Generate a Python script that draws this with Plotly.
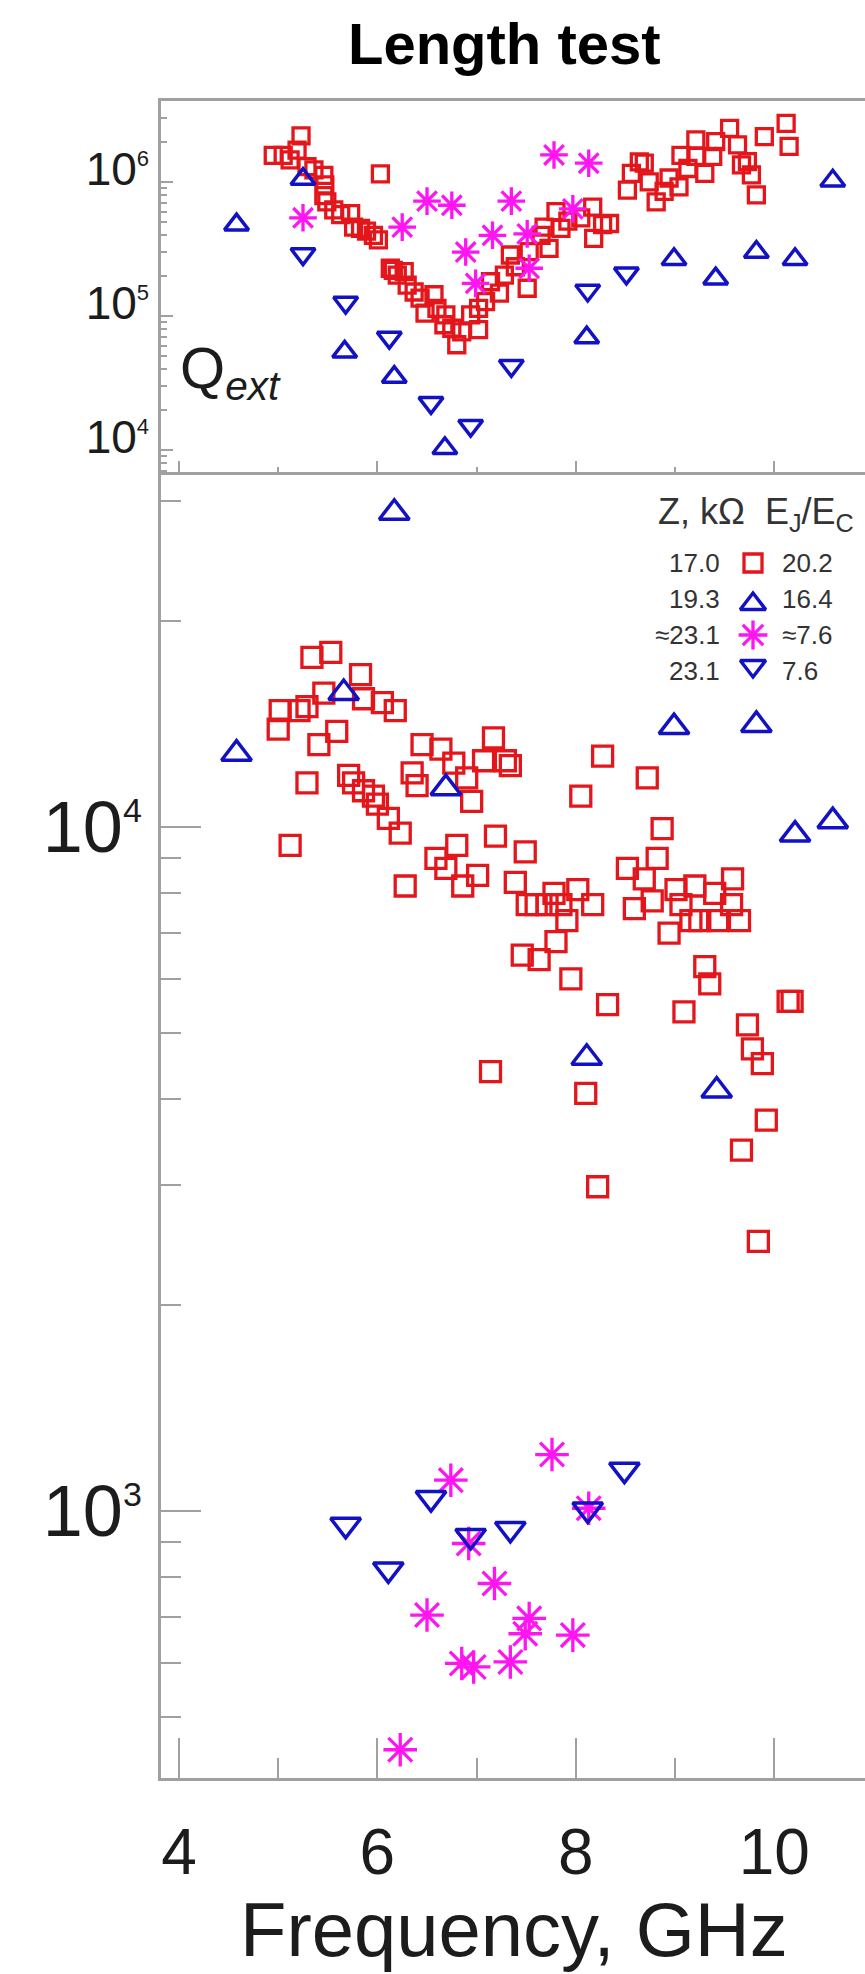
import plotly.graph_objects as go

W, H = 865, 1974

# ---------------- data ----------------
# 17.0 kOhm junction chain (open squares)
sq_f_top = [4.95, 5.05, 5.12, 5.19, 5.23, 5.29, 5.36, 5.46, 5.47, 5.46, 5.49, 5.56, 5.63, 5.73, 5.76,
            5.83, 5.89, 5.96, 6.01, 6.03, 6.13, 6.16, 6.20, 6.27, 6.30, 6.37, 6.43, 6.48, 6.57, 6.60,
            6.69, 6.67, 6.75, 6.80, 6.85, 6.94, 7.02, 7.02, 7.09, 7.14, 7.23, 7.28, 7.34, 7.39, 7.51,
            7.53, 7.65, 7.68, 7.73, 7.80, 7.85, 7.92, 8.05, 8.17, 8.18, 8.27, 8.34, 8.52, 8.56, 8.64,
            8.69, 8.74, 8.81, 8.89, 8.94, 9.04, 9.06, 9.13, 9.21, 9.21, 9.30, 9.38, 9.41, 9.55, 9.63,
            9.67, 9.73, 9.77, 9.82, 9.90, 10.12, 10.15]
sq_q_top = [1.58e6, 1.58e6, 1.46e6, 1.73e6, 2.21e6, 1.30e6, 1.23e6, 1.12e6, 9.5e5, 7.9e5, 7.1e5, 6.2e5,
            5.7e5, 5.8e5, 4.6e5, 4.5e5, 4.3e5, 4.0e5, 3.7e5, 1.15e6, 2.27e5, 2.19e5, 2.02e5, 2.14e5,
            1.70e5, 1.51e5, 1.36e5, 1.05e5, 1.44e5, 1.14e5, 1.02e5, 8.6e4, 8.1e4, 6.1e4, 7.6e4, 1.02e5,
            7.9e4, 1.14e5, 1.28e5, 1.80e5, 1.48e5, 2.02e5, 2.85e5, 2.33e5, 1.61e5, 3.02e5, 4.0e5, 4.6e5,
            3.2e5, 6.0e5, 4.5e5, 5.1e5, 5.4e5, 6.5e5, 3.8e5, 4.8e5, 4.9e5, 8.7e5, 1.16e6, 1.41e6,
            1.38e6, 1.0e6, 7.1e5, 8.5e5, 1.07e6, 9.2e5, 1.58e6, 1.26e6, 2.06e6, 1.55e6, 1.16e6, 1.55e6,
            2.0e6, 2.51e6, 1.89e6, 1.34e6, 1.42e6, 1.13e6, 8.0e5, 2.18e6, 2.74e6, 1.84e6]
sq_f_bot = [5.34, 5.53, 5.83, 5.02, 5.00, 5.21, 5.29, 5.46, 5.86, 6.05, 6.18, 5.41, 5.59, 5.29, 5.71,
            5.76, 5.86, 5.96, 6.00, 6.11, 6.23, 5.12, 6.45, 6.64, 6.35, 6.40, 6.77, 6.90, 7.07, 7.17,
            6.95, 7.19, 6.80, 6.59, 6.69, 6.86, 7.01, 6.28, 7.29, 7.34, 8.27, 8.72, 8.05, 8.87, 7.49,
            7.39, 7.51, 7.60, 7.71, 7.78, 7.85, 8.02, 8.17, 7.91, 7.80, 7.46, 7.63, 7.95, 8.52, 8.82,
            8.69, 8.59, 8.77, 9.01, 9.20, 9.06, 8.94, 9.16, 9.25, 9.43, 9.40, 9.57, 9.58, 9.65, 9.30,
            9.35, 8.32, 7.14, 8.10, 8.22, 9.09, 10.14, 10.18, 9.73, 9.78, 9.88, 9.92, 9.67, 9.84]
sq_v_bot = [1.77e4, 1.80e4, 1.67e4, 1.48e4, 1.39e4, 1.48e4, 1.50e4, 1.57e4, 1.54e4, 1.52e4, 1.48e4,
            1.32e4, 1.38e4, 1.16e4, 1.19e4, 1.16e4, 1.13e4, 1.11e4, 1.08e4, 1.03e4, 9.8e3, 9.4e3,
            1.32e4, 1.30e4, 1.20e4, 1.15e4, 1.24e4, 1.18e4, 1.25e4, 1.35e4, 1.09e4, 9.7e3, 9.4e3,
            9.0e3, 8.7e3, 8.2e3, 8.5e3, 8.2e3, 1.25e4, 1.23e4, 1.27e4, 1.18e4, 1.11e4, 9.95e3, 9.2e3,
            8.3e3, 7.7e3, 7.7e3, 7.7e3, 8.0e3, 7.7e3, 8.1e3, 7.7e3, 7.3e3, 6.8e3, 6.5e3, 6.4e3,
            6.0e3, 8.7e3, 9.0e3, 8.4e3, 7.6e3, 7.8e3, 8.1e3, 8.2e3, 7.7e3, 7.0e3, 7.3e3, 7.3e3,
            7.3e3, 8.0e3, 7.7e3, 8.4e3, 7.3e3, 6.25e3, 5.9e3, 5.5e3, 4.39e3, 4.08e3, 2.98e3, 5.37e3,
            5.56e3, 5.56e3, 5.14e3, 4.74e3, 4.51e3, 3.73e3, 3.37e3, 2.48e3]

# 19.3 kOhm (open up-triangles)
tu_f_top = [4.58, 5.25, 5.67, 6.17, 6.68, 8.11, 8.99, 9.41, 9.82, 10.21, 10.59]
tu_q_top = [4.8e5, 1.05e6, 5.4e4, 3.5e4, 1.03e4, 6.9e4, 2.65e5, 1.9e5, 3.0e5, 2.65e5, 1.02e6]
tu_f_bot = [4.58, 5.66, 6.17, 6.69, 8.11, 8.99, 9.42, 9.82, 10.21, 10.59]
tu_v_bot = [1.28e4, 1.57e4, 2.88e4, 1.14e4, 4.6e3, 1.40e4, 4.12e3, 1.41e4, 9.75e3, 1.02e4]

# ~23.1 kOhm (asterisks)
st_f_top = [5.25, 6.25, 6.50, 6.75, 6.89, 6.99, 7.16, 7.35, 7.51, 7.53, 7.78, 7.97, 8.13]
st_q_top = [5.4e5, 4.6e5, 7.2e5, 6.7e5, 3.0e5, 1.75e5, 4.0e5, 7.2e5, 4.1e5, 2.27e5, 1.59e6, 6.3e5, 1.38e6]
st_f_bot = [6.23, 6.50, 6.74, 6.85, 6.92, 6.97, 7.18, 7.34, 7.49, 7.53, 7.76, 7.97, 8.13]
st_v_bot = [448, 705, 1110, 599, 897, 592, 784, 602, 662, 697, 1210, 659, 1010]

# 23.1 kOhm (open down-triangles)
td_f_top = [5.25, 5.68, 6.12, 6.54, 6.94, 7.35, 8.12, 8.51]
td_q_top = [2.9e5, 1.26e5, 6.9e4, 2.25e4, 1.52e4, 4.25e4, 1.55e5, 2.08e5]
td_f_bot = [5.68, 6.11, 6.54, 6.94, 7.34, 8.12, 8.49]
td_v_bot = [955, 822, 1045, 920, 942, 1006, 1150]

# legend text
z_labels = ["17.0", "19.3", "\u224823.1", "23.1"]
ratio_labels = ["20.2", "16.4", "\u22487.6", "7.6"]

# ---------------- styling ----------------
RED = "#E3161C"
BLUE = "#1212C4"
MAG = "#FF14F2"
AX = "#a0a0a0"
TXT = "#1c1c1c"
FONT = "Liberation Sans, Arial, sans-serif"

# pixel geometry of the two panels
X_LEFT = 161
TOP_T, TOP_B = 101, 472
BOT_T, BOT_B = 472, 1778


def fx(px):
    return px / W


def fy(py):
    return 1 - py / H


series = [
    # (symbol, color, top f, top q, bottom f, bottom v, top size, bottom size, line width)
    ("square-open", RED, sq_f_top, sq_q_top, sq_f_bot, sq_v_bot, 16, 20, 3.3),
    ("triangle-up-open", BLUE, tu_f_top, tu_q_top, tu_f_bot, tu_v_bot, 21, 26, 3.5),
    ("asterisk-open", MAG, st_f_top, st_q_top, st_f_bot, st_v_bot, 23, 28, 3.3),
    ("triangle-down-open", BLUE, td_f_top, td_q_top, td_f_bot, td_v_bot, 21, 26, 3.5),
]

fig = go.Figure()
for sym, col, ft, qt, fb, vb, s_top, s_bot, lw in series:
    fig.add_trace(go.Scatter(x=ft, y=qt, mode="markers", xaxis="x", yaxis="y", showlegend=False,
                             marker=dict(symbol=sym, size=s_top, color=col,
                                         line=dict(color=col, width=lw))))
    fig.add_trace(go.Scatter(x=fb, y=vb, mode="markers", xaxis="x2", yaxis="y2", showlegend=False,
                             marker=dict(symbol=sym, size=s_bot, color=col,
                                         line=dict(color=col, width=lw))))

# legend keys drawn on a full-figure pixel overlay
key_x = 753
key_y0, key_dy = 563, 36
key_shift = [0, 5, 0, -5]
key_sizes = [18, 22, 24, 22]
for i, (sym, col, *_rest) in enumerate(series):
    lw = _rest[-1]
    fig.add_trace(go.Scatter(x=[key_x], y=[key_y0 + i * key_dy + key_shift[i]], mode="markers",
                             xaxis="x3", yaxis="y3", showlegend=False, hoverinfo="skip",
                             marker=dict(symbol=sym, size=key_sizes[i], color=col,
                                         line=dict(color=col, width=lw))))

x_range = [3.8185, 10.915]
dom_x = [fx(X_LEFT), 1.0]


def decade_minor(lo, hi):
    return [k * 10 ** e for e in range(lo, hi + 1) for k in range(2, 10)]


axis_common = dict(showgrid=False, zeroline=False, showline=True, linecolor=AX, linewidth=2.5,
                   tickcolor=AX, tickwidth=2, ticks="inside")

sup_top = "<span style='font-size:22px'>{}</span>"
sup_bot = "<span style='font-size:34px'>{}</span>"

fig.update_layout(
    width=W, height=H,
    margin=dict(l=0, r=0, t=0, b=0),
    paper_bgcolor="white", plot_bgcolor="rgba(0,0,0,0)",
    showlegend=False,
    xaxis=dict(domain=dom_x, anchor="y", range=x_range, mirror=True,
               tickmode="array", tickvals=[4, 6, 8, 10], ticklen=11, showticklabels=False,
               minor=dict(ticks="inside", tickmode="array", tickvals=[5, 7, 9], ticklen=5,
                          tickcolor=AX, tickwidth=2, showgrid=False),
               **axis_common),
    yaxis=dict(domain=[fy(TOP_B), fy(TOP_T)], anchor="x", type="log", range=[3.836, 6.604],
               tickmode="array", tickvals=[1e4, 1e5, 1e6],
               ticktext=["10<sup>" + sup_top.format(n) + "</sup>" for n in (4, 5, 6)],
               ticklen=12, ticklabelstandoff=0, ticklabelshift=-13,
               tickfont=dict(family=FONT, size=46, color=TXT),
               minor=dict(ticks="inside", tickmode="array", tickvals=decade_minor(3, 6), ticklen=6,
                          tickcolor=AX, tickwidth=1.5, showgrid=False),
               **axis_common),
    xaxis2=dict(domain=dom_x, anchor="y2", range=x_range,
                tickmode="array", tickvals=[4, 6, 8, 10], ticktext=["4", "6", "8", "10"],
                ticklen=40, ticklabelstandoff=16,
                tickfont=dict(family=FONT, size=64, color=TXT),
                minor=dict(ticks="inside", tickmode="array", tickvals=[5, 7, 9], ticklen=20,
                           tickcolor=AX, tickwidth=2, showgrid=False),
                **axis_common),
    yaxis2=dict(domain=[fy(BOT_B), fy(BOT_T)], anchor="x2", type="log", range=[2.610, 4.519],
                tickmode="array", tickvals=[1e3, 1e4],
                ticktext=["10<sup>" + sup_bot.format(n) + "</sup>" for n in (3, 4)],
                ticklen=40, ticklabelstandoff=2,
                tickfont=dict(family=FONT, size=72, color=TXT),
                minor=dict(ticks="inside", tickmode="array", tickvals=decade_minor(2, 4), ticklen=20,
                           tickcolor=AX, tickwidth=2, showgrid=False),
                **axis_common),
    xaxis3=dict(domain=[0, 1], anchor="y3", range=[0, W], visible=False),
    yaxis3=dict(domain=[0, 1], anchor="x3", range=[H, 0], visible=False),
)

annotations = [
    dict(text="<b>Length test</b>", x=fx(504), y=fy(44),
         font=dict(family=FONT, size=58, color="black")),
    dict(text="Q<sub><i>ext</i></sub>", x=fx(178), y=fy(372), xanchor="left",
         font=dict(family=FONT, size=58, color=TXT)),
    dict(text="Frequency, GHz", x=fx(514), y=fy(1929),
         font=dict(family=FONT, size=76, color=TXT)),
    dict(text="Z, k\u03a9  E<sub>J</sub>/E<sub>C</sub>", x=fx(756), y=fy(514),
         font=dict(family=FONT, size=36, color="#333333")),
]
for i, (zl, rl) in enumerate(zip(z_labels, ratio_labels)):
    yy = key_y0 + i * key_dy
    annotations.append(dict(text=zl, x=fx(722), y=fy(yy), xanchor="right",
                            font=dict(family=FONT, size=26, color="#333333")))
    annotations.append(dict(text=rl, x=fx(780), y=fy(yy), xanchor="left",
                            font=dict(family=FONT, size=26, color="#333333")))

for a in annotations:
    a.update(xref="paper", yref="paper", showarrow=False)
    a.setdefault("xanchor", "center")
    a.setdefault("yanchor", "middle")
fig.update_layout(annotations=annotations)

fig.write_html("out.html",
               post_script="document.documentElement.style.margin='0';"
                           "document.body.style.margin='0';"
                           "document.documentElement.style.overflow='hidden';"
                           "document.body.style.overflow='hidden';")
